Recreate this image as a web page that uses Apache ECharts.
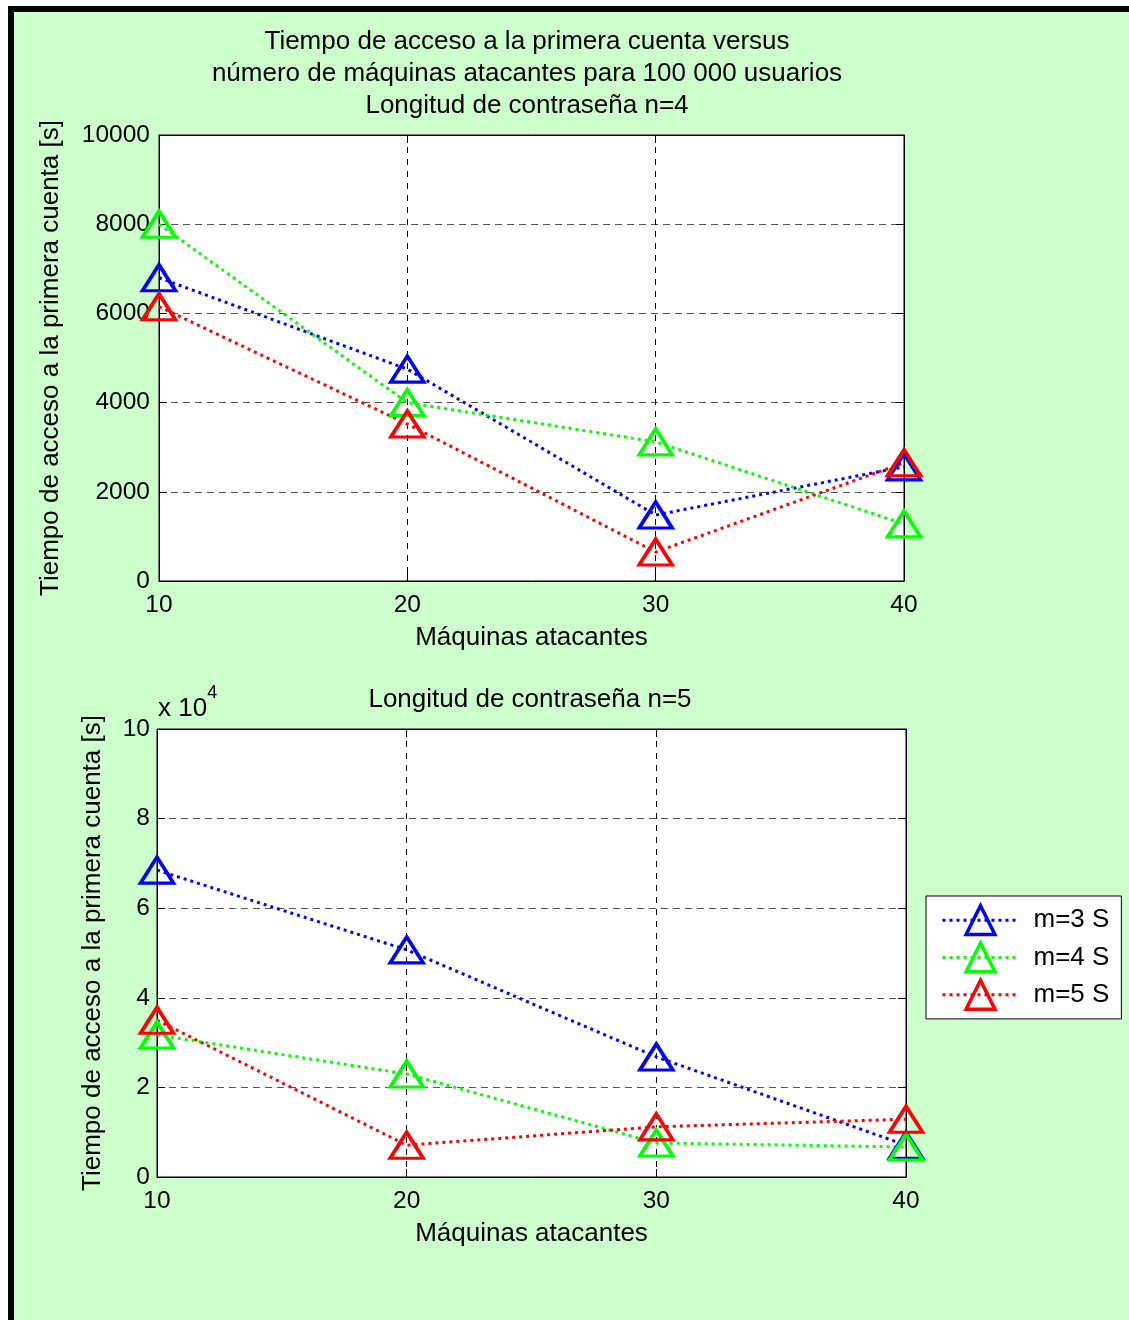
<!DOCTYPE html>
<html>
<head>
<meta charset="utf-8">
<title>Tiempo de acceso a la primera cuenta</title>
<script src="https://cdn.jsdelivr.net/npm/echarts@6/dist/echarts.min.js"></script>
<style>
  html, body { margin: 0; padding: 0; background: #fff; width: 1129px; height: 1320px; overflow: hidden; }
  #frame { position: absolute; left: 8px; top: 6px; right: 0; bottom: 0;
           border-left: 6px solid #000; border-top: 6px solid #000; background: #ccffcc; }
  #chart { position: absolute; left: 0; top: 0; width: 1129px; height: 1320px; }
</style>
</head>
<body>
<div id="frame"></div>
<div id="chart"></div>
<script>
// Number of attacking machines
const machines = [10, 20, 30, 40];
const seriesNames = ['m=3 S', 'm=4 S', 'm=5 S'];
const seriesColors = ['#0000ff', '#00ff00', '#ff0000'];

// Time to first account [s], password length n=4
const n4_m3 = [6800, 4750, 1480, 2560];
const n4_m4 = [8000, 4000, 3120, 1280];
const n4_m5 = [6150, 3520, 650, 2650];

// Time to first account [s], password length n=5
const n5_m3 = [68500, 50700, 26800, 7100];
const n5_m4 = [31700, 23000, 7600, 6700];
const n5_m5 = [35000, 7100, 11200, 12900];

// Tick labels
const xTicks = [10, 20, 30, 40];
const yTicksTop = [0, 2000, 4000, 6000, 8000, 10000];
const yTicksBottom = [0, 2, 4, 6, 8, 10];
const yScaleBottom = 10000;

const FONT = 'Liberation Sans, Arial, sans-serif';
const FS = 26;      // titles, axis names, legend
const FS_NUM = 24.5; // tick labels

const chart = echarts.init(document.getElementById('chart'), null, { renderer: 'canvas' });

function pairs(vals) { return machines.map((m, i) => [m, vals[i]]); }

function lineSeries(name, vals, color, idx) {
  return {
    name: name,
    type: 'line',
    xAxisIndex: idx,
    yAxisIndex: idx,
    data: pairs(vals),
    symbol: 'triangle',
    symbolSize: [33, 26],
    showSymbol: true,
    z: 3,
    lineStyle: { color: color, width: 3, type: [3, 4] },
    itemStyle: { color: 'rgba(255,255,255,0)', borderColor: color, borderWidth: 3.5 },
    emphasis: { disabled: true },
    animation: false
  };
}

const tickLabel = { color: '#000', fontSize: FS_NUM, fontFamily: FONT };
const nameText = { color: '#000', fontSize: FS, fontFamily: FONT };

function xMain(grid) {
  return {
    type: 'value', gridIndex: grid, min: xTicks[0], max: xTicks[xTicks.length - 1], interval: xTicks[1] - xTicks[0],
    position: 'bottom',
    name: 'Máquinas atacantes', nameLocation: 'middle', nameGap: 44, nameTextStyle: nameText,
    axisLine: { show: true, onZero: false, lineStyle: { color: '#000', width: 1 } },
    axisTick: { show: true, inside: true, length: 8, lineStyle: { color: '#000' } },
    axisLabel: Object.assign({ margin: 12 }, tickLabel),
    splitLine: { show: true, lineStyle: { color: '#000', width: 1, type: [6, 6] } }
  };
}
function xMirror(grid) {
  return {
    type: 'value', gridIndex: grid, min: xTicks[0], max: xTicks[xTicks.length - 1], interval: xTicks[1] - xTicks[0],
    position: 'top',
    axisLine: { show: true, onZero: false, lineStyle: { color: '#000', width: 1 } },
    axisTick: { show: true, inside: true, length: 8, lineStyle: { color: '#000' } },
    axisLabel: { show: false }, splitLine: { show: false }
  };
}
function yMain(grid, max, interval, gap, fmt, margin) {
  return {
    type: 'value', gridIndex: grid, min: 0, max: max, interval: interval,
    position: 'left',
    name: 'Tiempo de acceso a la primera cuenta [s]', nameLocation: 'middle', nameGap: gap,
    nameTextStyle: nameText,
    axisLine: { show: true, onZero: false, lineStyle: { color: '#000', width: 1 } },
    axisTick: { show: true, inside: true, length: 8, lineStyle: { color: '#000' } },
    axisLabel: Object.assign({ margin: margin, formatter: fmt }, tickLabel),
    splitLine: { show: true, lineStyle: { color: '#555', width: 1, type: [7, 5] } }
  };
}
function yMirror(grid, max, interval) {
  return {
    type: 'value', gridIndex: grid, min: 0, max: max, interval: interval,
    position: 'right',
    axisLine: { show: true, onZero: false, lineStyle: { color: '#000', width: 1 } },
    axisTick: { show: true, inside: true, length: 8, lineStyle: { color: '#000' } },
    axisLabel: { show: false }, splitLine: { show: false }
  };
}

const topMax = yTicksTop[yTicksTop.length - 1];
const topStep = yTicksTop[1] - yTicksTop[0];
const botMax = yTicksBottom[yTicksBottom.length - 1] * yScaleBottom;
const botStep = (yTicksBottom[1] - yTicksBottom[0]) * yScaleBottom;

const option = {
  backgroundColor: 'transparent',
  animation: false,
  textStyle: { fontFamily: FONT },
  title: [
    {
      text: 'Tiempo de acceso a la primera cuenta versus\nnúmero de máquinas atacantes para 100 000 usuarios\nLongitud de contraseña n=4',
      left: 527, top: 26, textAlign: 'center', padding: 0,
      textStyle: { fontSize: FS, fontWeight: 'normal', color: '#000', lineHeight: 32, fontFamily: FONT }
    },
    {
      text: 'Longitud de contraseña n=5',
      left: 530, top: 684, textAlign: 'center', padding: 0,
      textStyle: { fontSize: FS, fontWeight: 'normal', color: '#000', lineHeight: 32, fontFamily: FONT }
    }
  ],
  grid: [
    { left: 159, top: 135, width: 745, height: 446, show: true, backgroundColor: '#fff', borderColor: '#000', borderWidth: 1 },
    { left: 157, top: 729, width: 749, height: 448, show: true, backgroundColor: '#fff', borderColor: '#000', borderWidth: 1 }
  ],
  xAxis: [xMain(0), xMain(1), xMirror(0), xMirror(1)],
  yAxis: [
    yMain(0, topMax, topStep, 95, v => String(v), 9),
    yMain(1, botMax, botStep, 51, v => String(v / yScaleBottom), 7),
    yMirror(0, topMax, topStep),
    yMirror(1, botMax, botStep)
  ],
  legend: {
    data: seriesNames,
    orient: 'vertical',
    left: 926, top: 896,
    padding: [8, 12, 8, 15],
    itemWidth: 76, itemHeight: 36, itemGap: 5,
    backgroundColor: '#fff', borderColor: '#000', borderWidth: 1, borderRadius: 0,
    lineStyle: { width: 3, type: [3, 4] },
    itemStyle: { borderWidth: 3.5 },
    textStyle: { color: '#000', fontSize: FS, fontFamily: FONT, padding: [0, 0, 0, 10] },
    selectedMode: false
  },
  graphic: [
    {
      type: 'text', left: 158, top: 684,
      style: {
        text: '{a|x 10}{b|4}',
        rich: {
          a: { fontSize: FS, fontFamily: FONT, fill: '#000', padding: [12, 0, 0, 0] },
          b: { fontSize: 18, fontFamily: FONT, fill: '#000', verticalAlign: 'top' }
        }
      }
    }
  ],
  series: [
    lineSeries(seriesNames[0], n4_m3, seriesColors[0], 0),
    lineSeries(seriesNames[1], n4_m4, seriesColors[1], 0),
    lineSeries(seriesNames[2], n4_m5, seriesColors[2], 0),
    lineSeries(seriesNames[0], n5_m3, seriesColors[0], 1),
    lineSeries(seriesNames[1], n5_m4, seriesColors[1], 1),
    lineSeries(seriesNames[2], n5_m5, seriesColors[2], 1)
  ]
};

chart.setOption(option);
</script>
</body>
</html>
